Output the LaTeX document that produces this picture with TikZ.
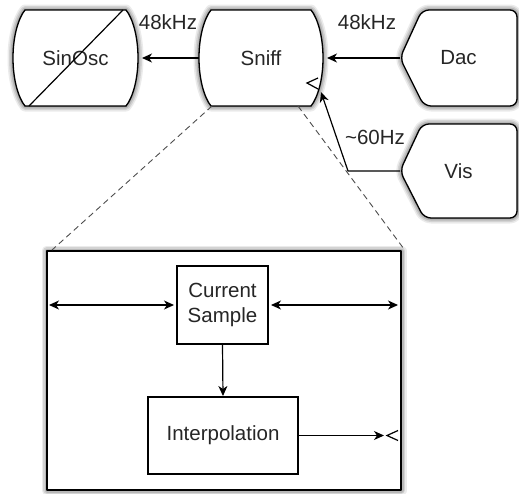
\documentclass[tikz,border=0pt]{standalone}
\usepackage{fontspec}
\setmainfont{Liberation Sans}
\usetikzlibrary{arrows.meta,calc,backgrounds}

\tikzset{
  lbl/.style={font=\fontsize{20.5}{25}\selectfont, text=black!85},
  area/.style={lbl, inner sep=0pt, outer sep=0pt, align=center},
  outline/.style={draw=black, line width=1.3pt, fill=white, line join=round},
  tip/.tip={Stealth[length=10pt,width=9pt,inset=3pt]},
  flow/.style={line width=1.2pt, -tip},
  twoway/.style={line width=1.2pt, tip-tip},
  zoomline/.style={dash pattern=on 6pt off 4pt, line width=0.9pt, draw=black!70},
  portmark/.style={line width=1.2pt},
  blockbox/.style={area, draw=black, line width=1.2pt, fill=white},
}

% barrel outline: straight top and bottom, arc-shaped left and right sides
\newcommand\barrel[2]{%
  \path[#2] ($(#1.north west)+(12,0)$) -- ($(#1.north east)+(-12,0)$)
  .. controls ($(#1.north east)+(-5.5,8)$) and ($(#1.east)+(0,-22)$) .. (#1.east)
  .. controls ($(#1.east)+(0,22)$) and ($(#1.south east)+(-5.5,-8)$) .. ($(#1.south east)+(-12,0)$)
  -- ($(#1.south west)+(12,0)$)
  .. controls ($(#1.south west)+(5.5,-8)$) and ($(#1.west)+(0,22)$) .. (#1.west)
  .. controls ($(#1.west)+(0,-22)$) and ($(#1.north west)+(5.5,8)$) .. ($(#1.north west)+(12,0)$)
  -- cycle;}

% pointed-left outline with a flat right side
\newcommand\chevron[2]{%
  \path[rounded corners=7pt, #2] ($(#1.north west)+(22,0)$) -- (#1.west) -- ($(#1.south west)+(24,0)$)
  -- (#1.south east) -- (#1.north east) -- cycle;}

% plain rectangle over a node's border
\newcommand\frameof[2]{%
  \path[#2] (#1.north west) rectangle (#1.south east);}

% soft drop shadow built from a few translucent offset copies
\newcommand\softshadow[2]{%
  \foreach \w/\o in {11/0.08, 8/0.1, 5/0.13, 2/0.18}{%
    #1{#2}{shift={(4,5)}, fill=black, draw=black, line width=\w pt,
           line join=round, fill opacity=0.35, draw opacity=\o}}}

\begin{document}
\begin{tikzpicture}[x=1pt, y=-1pt]
\useasboundingbox (0,0) rectangle (519,493);

% top row of units
\node[area, minimum width=125pt, minimum height=96pt] (sinosc) at (75.5,58) {SinOsc};
\node[area, minimum width=124pt, minimum height=96pt] (sniff) at (261,58) {Sniff};
\node[area, minimum width=117pt, minimum height=96pt] (dac) at (458.5,58) {Dac};
\node[area, minimum width=117pt, minimum height=94pt] (vis) at (458.5,171) {Vis};

% detail of Sniff (frame drawn below, on the background layer)
\node[minimum width=354pt, minimum height=239pt, outer sep=0pt] (detail) at (224,370.5) {};

\begin{pgfonlayer}{background}
  \softshadow\barrel{sinosc}
  \softshadow\barrel{sniff}
  \softshadow\chevron{dac}
  \softshadow\chevron{vis}
  \softshadow\frameof{detail}
  \barrel{sinosc}{outline}
  \barrel{sniff}{outline}
  \chevron{dac}{outline}
  \chevron{vis}{outline}
  \frameof{detail}{outline}
\end{pgfonlayer}

% strike through SinOsc
\draw[line width=1.2pt] ($(sinosc.north east)+(-15,0)$) -- ($(sinosc.south west)+(16,0)$);

% port mark on Sniff
\coordinate (sniffport) at ($(sniff.south east)+(-16,-23)$);
\draw[portmark] ($(sniffport)+(11,-5)$) -- (sniffport) -- ($(sniffport)+(11,6)$);

% rate labels
\node[lbl] (rateout) at (168,22) {48kHz};
\node[lbl] (ratein) at (367,22) {48kHz};
\node[lbl] (ratevis) at (375,137) {\textasciitilde60Hz};

% connections between units
\draw[flow, shorten >=4pt] (dac.west) -- (sniff.east);
\draw[flow, shorten >=4pt] (sniff.west) -- (sinosc.east);
\coordinate (visbend) at ($(vis.west)+(-52,0)$);
\coordinate (sniffin) at ($(sniff.south east)+(-2,-14)$);
\draw[flow] (vis.west) -- (visbend) -- (sniffin);

% zoom lines from Sniff to its detail
\draw[zoomline] ($(sniff.south west)+(13,0)$) -- ($(detail.north west)+(5,-1)$);
\draw[zoomline] ($(sniff.south east)+(-25,0)$) -- ($(detail.north east)+(3,-2)$);

\node[blockbox, minimum width=91pt, minimum height=78pt] (cur) at (222.5,305) {Current\\Sample};
\node[blockbox, minimum width=150pt, minimum height=77pt] (interp) at (223,435.5) {Interpolation};

\coordinate (inL) at (detail.west |- cur.west);
\coordinate (inR) at (detail.east |- cur.east);
\coordinate (outR) at (detail.east |- interp.east);
\draw[twoway, shorten <=2pt, shorten >=3pt] (inL) -- (cur.west);
\draw[twoway, shorten <=3pt, shorten >=3pt] (cur.east) -- (inR);
\draw[flow, shorten >=1pt] (cur.south) -- (interp.north);
\draw[flow, shorten >=17pt] (interp.east) -- (outR);
\coordinate (detailport) at ($(outR)+(-14,0)$);
\draw[portmark] ($(detailport)+(11,-5)$) -- (detailport) -- ($(detailport)+(11,5)$);
\end{tikzpicture}
\end{document}
